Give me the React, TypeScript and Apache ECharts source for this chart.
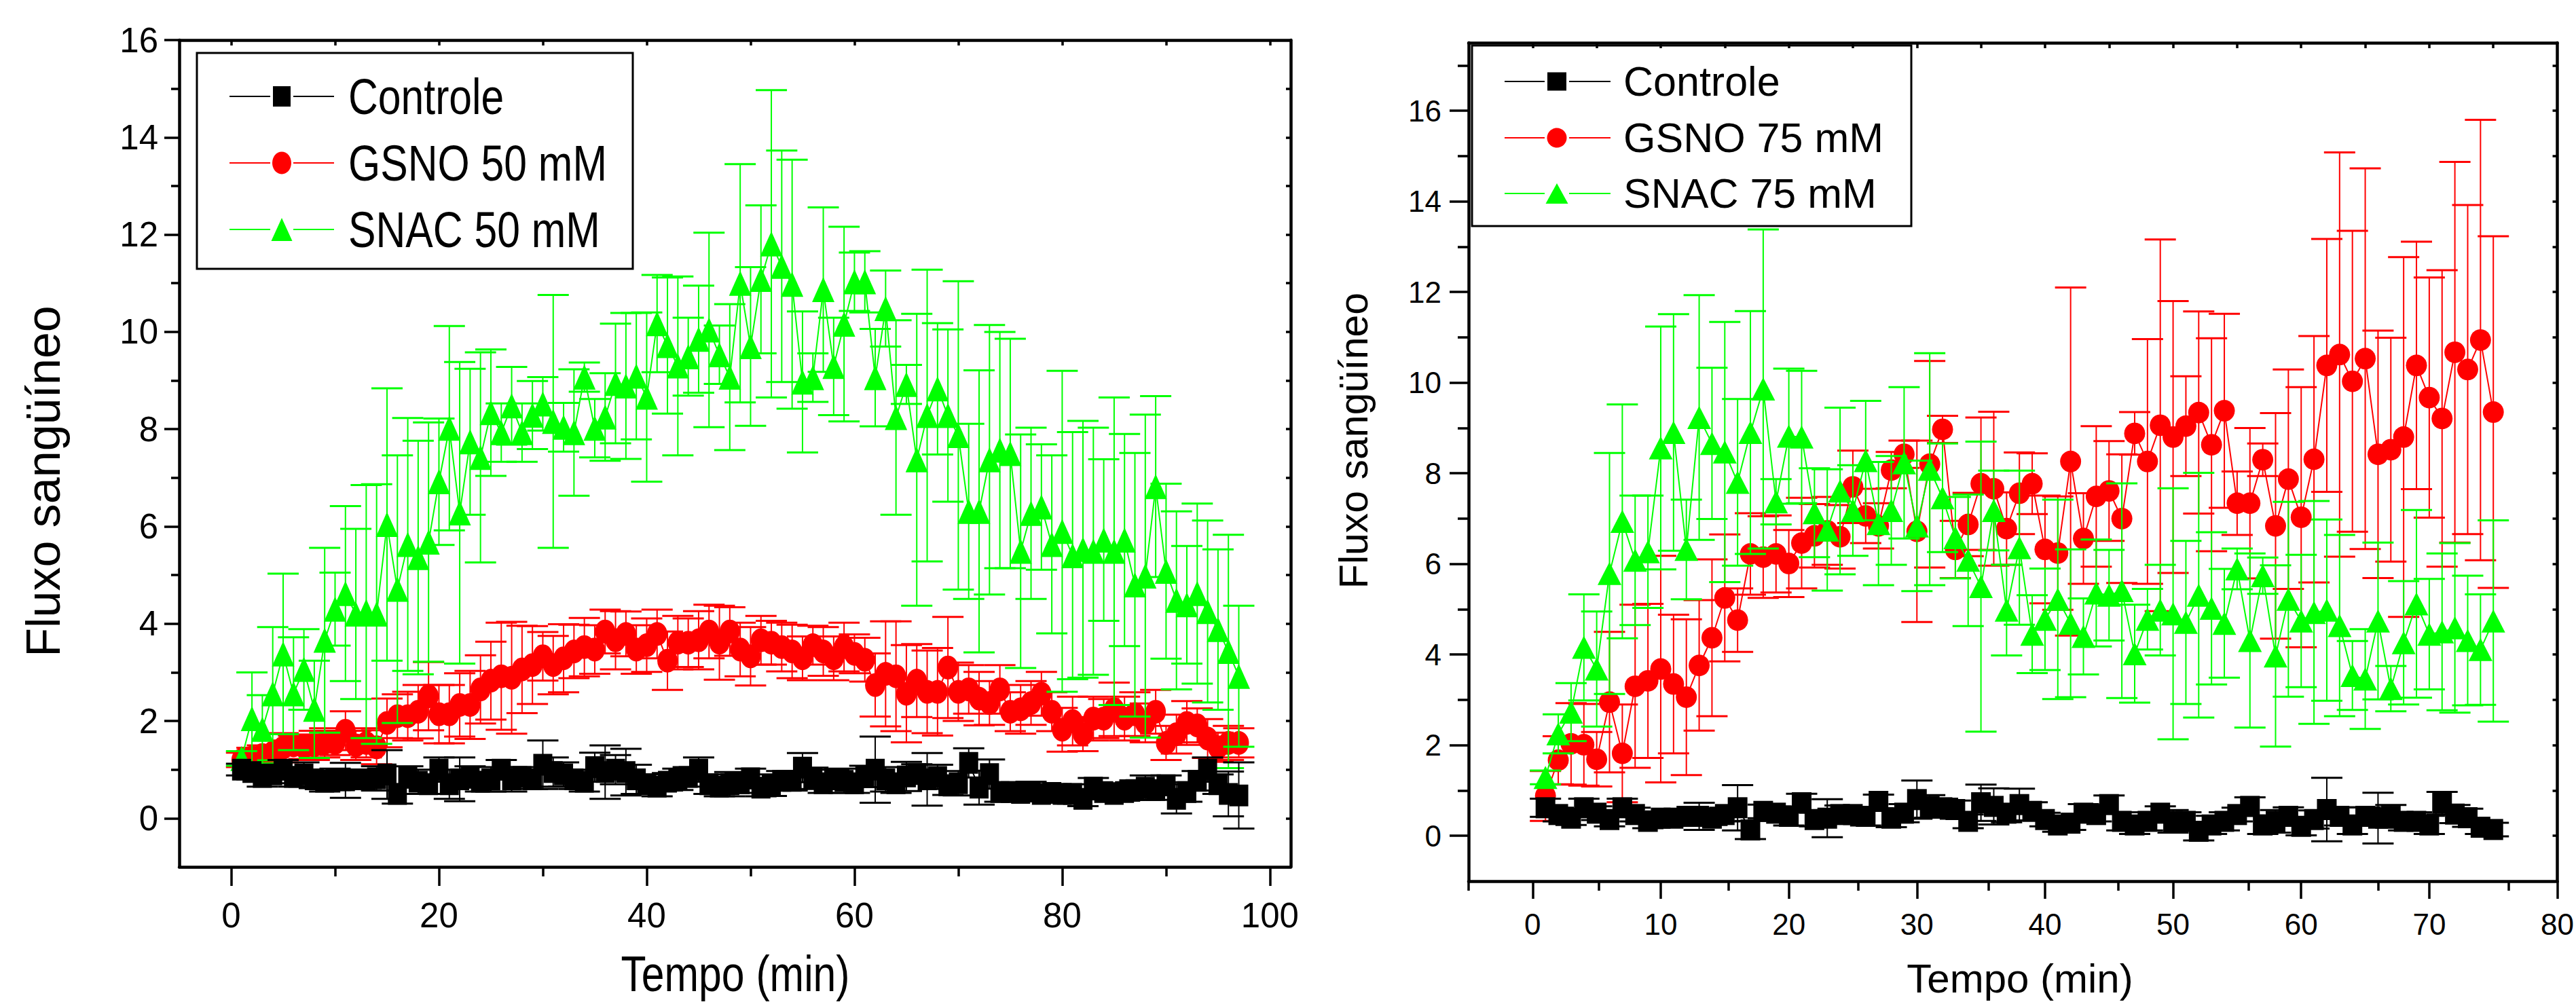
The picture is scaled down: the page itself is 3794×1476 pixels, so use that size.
import React, { useEffect, useRef } from 'react';
import * as echarts from 'echarts';

// ---------- Data: left panel (50 mM), time 1..97 min ----------
const ctrl50 = [
  1.0, 0.95, 0.85, 0.9, 1.0, 0.85, 0.9, 0.8, 0.75, 0.8,
  0.78, 0.8, 0.8, 0.82, 0.9, 0.5, 0.85, 0.75, 0.7, 1.0,
  0.7, 0.8, 0.85, 0.75, 0.8, 1.0, 0.8, 0.85, 0.8, 1.1,
  0.95, 0.9, 0.8, 0.75, 1.05, 0.95, 1.0, 0.95, 0.8, 0.7,
  0.65, 0.75, 0.8, 0.85, 1.0, 0.7, 0.65, 0.7, 0.72, 0.82,
  0.63, 0.68, 0.77, 0.77, 1.04, 0.82, 0.72, 0.8, 0.77, 0.72,
  0.86, 1.0, 0.8, 0.72, 0.86, 0.91, 0.8, 0.85, 0.68, 0.72,
  1.14, 0.63, 0.91, 0.54, 0.54, 0.52, 0.55, 0.5, 0.52, 0.5,
  0.5, 0.4, 0.63, 0.54, 0.5, 0.54, 0.58, 0.63, 0.58, 0.68,
  0.4, 0.54, 0.77, 1.0, 0.7, 0.5, 0.47,
];
const ctrl50Err = [
  0.12, 0.15, 0.2, 0.18, 0.2, 0.2, 0.25, 0.18, 0.2, 0.22,
  0.36, 0.2, 0.18, 0.25, 0.5, 0.2, 0.22, 0.25, 0.2, 0.25,
  0.3, 0.45, 0.22, 0.2, 0.25, 0.2, 0.25, 0.2, 0.2, 0.5,
  0.3, 0.25, 0.2, 0.2, 0.3, 0.55, 0.3, 0.48, 0.3, 0.2,
  0.2, 0.18, 0.22, 0.2, 0.25, 0.2, 0.2, 0.25, 0.2, 0.2,
  0.18, 0.22, 0.2, 0.2, 0.3, 0.22, 0.2, 0.2, 0.25, 0.2,
  0.22, 0.68, 0.25, 0.2, 0.3, 0.2, 0.54, 0.25, 0.2, 0.25,
  0.3, 0.35, 0.3, 0.2, 0.15, 0.15, 0.2, 0.15, 0.18, 0.15,
  0.2, 0.15, 0.2, 0.15, 0.15, 0.18, 0.2, 0.25, 0.2, 0.2,
  0.3, 0.2, 0.2, 0.25, 0.2, 0.46, 0.68,
];
const gsno50 = [
  1.2, 1.25, 1.3, 1.35, 1.45, 1.5, 1.47, 1.5, 1.55, 1.55,
  1.8, 1.5, 1.55, 1.46, 1.96, 2.1, 2.1, 2.19, 2.51, 2.14,
  2.14, 2.33, 2.33, 2.65, 2.83, 2.92, 2.89, 3.06, 3.15, 3.33,
  3.15, 3.29, 3.43, 3.52, 3.47, 3.84, 3.66, 3.79, 3.47, 3.56,
  3.79, 3.24, 3.61, 3.61, 3.66, 3.84, 3.61, 3.84, 3.47, 3.33,
  3.66, 3.61, 3.52, 3.43, 3.29, 3.56, 3.43, 3.29, 3.52, 3.38,
  3.26, 2.74, 2.97, 2.92, 2.56, 2.83, 2.6, 2.6, 3.1, 2.6,
  2.65, 2.46, 2.37, 2.65, 2.19, 2.24, 2.37, 2.56, 2.19, 1.82,
  2.0, 1.73, 2.05, 2.05, 2.24, 2.05, 2.14, 1.96, 2.19, 1.55,
  1.73, 1.96, 1.91, 1.64, 1.46, 1.55, 1.55,
];
const gsno50Err = [
  0.15, 0.2, 0.2, 0.25, 0.3, 0.2, 0.25, 0.3, 0.3, 0.25,
  0.4, 0.3, 0.3, 0.35, 0.5, 0.45, 0.5, 0.55, 0.7, 0.6,
  0.6, 0.65, 0.7, 0.7, 0.8, 1.1, 1.15, 0.9, 0.8, 0.5,
  0.6, 0.7, 0.55, 0.6, 0.5, 0.45, 0.6, 0.46, 0.5, 0.55,
  0.5, 0.6, 0.55, 0.5, 0.6, 0.55, 0.76, 0.5, 0.55, 0.6,
  0.5, 0.45, 0.5, 0.55, 0.45, 0.4, 0.5, 0.45, 0.5, 0.4,
  0.45, 0.65, 1.08, 1.13, 1.0, 0.75, 0.85, 0.9, 1.04, 0.6,
  0.5, 0.55, 0.45, 0.5, 0.4, 0.5, 0.45, 0.45, 0.4, 0.45,
  0.5, 0.35, 0.45, 0.4, 0.55, 0.45, 0.45, 0.4, 0.45, 0.35,
  0.4, 0.45, 0.35, 0.4, 0.3, 0.35, 0.3,
];
const snac50 = [
  1.23, 2.05, 1.83, 2.56, 3.38, 2.56, 3.06, 2.24, 3.66, 4.3,
  4.62, 4.2, 4.25, 4.2, 6.04, 4.71, 5.63, 5.36, 5.68, 6.92,
  8.02, 6.28, 7.74, 7.42, 8.34, 7.93, 8.48, 7.93, 8.29, 8.52,
  8.16, 8.04, 7.93, 9.07, 8.02, 8.25, 8.94, 8.89, 9.09, 8.66,
  10.17, 9.72, 9.3, 9.49, 9.85, 10.04, 9.53, 9.07, 11.0, 9.7,
  11.08, 11.81, 11.35, 10.98, 8.97, 9.06, 10.87, 9.29, 10.16, 11.03,
  11.03, 9.06, 10.48, 8.24, 8.92, 7.37, 8.28, 8.83, 8.28, 7.87,
  6.31, 6.31, 7.37, 7.57, 7.5, 5.49, 6.27, 6.4, 5.63, 5.9,
  5.4, 5.53, 5.49, 5.72, 5.49, 5.72, 4.8, 4.98, 6.82, 5.08,
  4.48, 4.39, 4.62, 4.25, 3.88, 3.43, 2.92,
];
const snac50Err = [
  0.15, 0.95, 0.7, 1.37, 1.65, 1.16, 0.83, 1.0, 1.9, 0.75,
  1.8, 1.75, 2.6, 2.67, 2.8, 2.75, 2.6, 2.4, 2.46, 1.3,
  2.1, 3.1, 1.5, 2.16, 1.3, 0.6, 0.8, 0.6, 0.7, 0.55,
  2.6, 0.5, 1.3, 0.3, 0.6, 0.9, 1.23, 1.5, 1.3, 1.74,
  1.0, 1.4, 1.84, 0.8, 1.1, 2.0, 0.6, 1.5, 2.45, 1.63,
  1.52, 3.16, 2.38, 2.56, 1.45, 0.5, 1.69, 1.0, 2.0, 0.6,
  0.63, 1.0, 0.78, 2.0, 0.4, 3.0, 3.0, 1.35, 1.77, 3.17,
  1.8, 2.9, 2.77, 2.43, 2.36, 2.4, 1.76, 1.29, 1.83, 3.3,
  2.54, 2.64, 2.54, 1.66, 3.16, 2.18, 2.71, 3.32, 1.86, 1.8,
  1.83, 1.21, 1.85, 1.87, 1.65, 2.4, 1.45,
];

// ---------- Data: right panel (75 mM), time 1..75 min ----------
const ctrl75 = [
  0.62, 0.47, 0.39, 0.62, 0.5, 0.36, 0.62, 0.47, 0.32, 0.39,
  0.39, 0.43, 0.43, 0.39, 0.47, 0.62, 0.13, 0.54, 0.5, 0.43,
  0.73, 0.36, 0.39, 0.47, 0.47, 0.43, 0.76, 0.39, 0.5, 0.8,
  0.65, 0.62, 0.58, 0.32, 0.73, 0.65, 0.5, 0.69, 0.54, 0.36,
  0.24, 0.28, 0.5, 0.47, 0.69, 0.32, 0.24, 0.32, 0.5, 0.32,
  0.32, 0.1, 0.24, 0.32, 0.47, 0.65, 0.24, 0.32, 0.43, 0.21,
  0.36, 0.58, 0.43, 0.24, 0.43, 0.39, 0.43, 0.32, 0.32, 0.24,
  0.72, 0.48, 0.4, 0.19, 0.14,
];
const ctrl75Err = [
  0.2, 0.15, 0.15, 0.2, 0.15, 0.15, 0.2, 0.15, 0.15, 0.15,
  0.12, 0.15, 0.3, 0.15, 0.15, 0.5, 0.2, 0.15, 0.15, 0.2,
  0.2, 0.15, 0.42, 0.2, 0.15, 0.2, 0.15, 0.2, 0.2, 0.42,
  0.25, 0.2, 0.2, 0.15, 0.4, 0.4, 0.2, 0.35, 0.2, 0.15,
  0.15, 0.15, 0.2, 0.15, 0.2, 0.2, 0.2, 0.2, 0.15, 0.25,
  0.2, 0.2, 0.2, 0.2, 0.15, 0.2, 0.2, 0.25, 0.2, 0.2,
  0.2, 0.7, 0.2, 0.2, 0.2, 0.56, 0.25, 0.2, 0.2, 0.2,
  0.25, 0.2, 0.2, 0.15, 0.15,
];
const gsno75 = [
  0.88, 1.67, 2.03, 2.01, 1.69, 2.95, 1.82, 3.3, 3.42, 3.68,
  3.35, 3.06, 3.76, 4.37, 5.25, 4.76, 6.22, 6.15, 6.22, 6.01,
  6.46, 6.62, 6.73, 6.6, 7.7, 7.06, 6.84, 8.07, 8.42, 6.72,
  8.2, 8.97, 6.32, 6.87, 7.77, 7.66, 6.78, 7.56, 7.77, 6.32,
  6.24, 8.26, 6.56, 7.49, 7.61, 7.0, 8.88, 8.26, 9.06, 8.8,
  9.04, 9.34, 8.63, 9.38, 7.34, 7.34, 8.3, 6.84, 7.87, 7.03,
  8.31, 10.38, 10.62, 10.03, 10.53, 8.42, 8.52, 8.8, 10.38, 9.67,
  9.21, 10.67, 10.29, 10.94, 9.35,
];
const gsno75Err = [
  0.55, 0.53, 0.9, 0.9, 0.6, 1.55, 1.08, 1.8, 1.7, 2.5,
  1.53, 1.72, 1.44, 1.73, 1.4, 0.7, 0.9, 0.9, 0.85, 0.74,
  1.0, 0.7, 0.75, 0.7, 0.8, 0.6, 0.5, 0.4, 0.3, 2.0,
  2.28, 0.3, 0.63, 0.7, 1.46, 1.7, 0.8, 0.9, 0.67, 1.19,
  1.25, 3.84, 1.0, 1.55, 1.1, 1.42, 0.47, 2.7, 4.1, 3.0,
  1.1, 2.23, 2.35, 2.14, 0.7, 1.66, 0.36, 2.49, 2.42, 2.87,
  2.72, 2.79, 4.46, 3.32, 4.2, 2.73, 2.47, 3.97, 2.73, 2.65,
  3.27, 4.2, 3.63, 4.86, 3.88,
];
const snac75 = [
  1.29, 2.25, 2.73, 4.16, 3.68, 5.79, 6.94, 6.08, 6.27, 8.56,
  8.9, 6.32, 9.23, 8.66, 8.47, 7.8, 8.9, 9.86, 7.37, 8.82,
  8.8, 7.13, 6.75, 7.61, 7.18, 8.28, 6.89, 7.18, 8.23, 6.84,
  8.09, 7.46, 6.58, 6.08, 5.5, 7.18, 4.98, 6.36, 4.45, 4.78,
  5.22, 4.69, 4.4, 5.36, 5.31, 5.41, 4.02, 4.78, 4.98, 4.9,
  4.71, 5.31, 5.02, 4.69, 5.89, 4.31, 5.74, 3.97, 5.22, 4.74,
  4.93, 4.98, 4.64, 3.54, 3.46, 4.74, 3.25, 4.26, 5.12, 4.45,
  4.5, 4.59, 4.31, 4.11, 4.74,
];
const snac75Err = [
  0.15, 0.43, 0.64, 1.17, 1.27, 2.66, 2.58, 1.43, 1.24, 2.68,
  2.61, 1.1, 2.7, 1.67, 2.87, 1.84, 2.68, 3.52, 0.5, 1.49,
  1.46, 0.98, 1.34, 1.84, 1.0, 1.32, 1.36, 1.2, 1.67, 1.44,
  2.56, 1.2, 0.9, 1.45, 3.2, 0.88, 1.0, 1.7, 0.86, 1.12,
  2.2, 1.63, 0.84, 1.18, 1.0, 2.37, 1.08, 0.67, 1.0, 2.77,
  1.8, 2.7, 1.68, 1.2, 0.45, 1.92, 0.4, 2.0, 2.15, 1.46,
  2.46, 2.0, 2.0, 0.76, 1.1, 1.73, 0.5, 1.36, 2.07, 1.22,
  1.73, 1.87, 1.43, 1.22, 2.22,
];

const time50 = Array.from({ length: ctrl50.length }, (_, i) => i + 1);
const time75 = Array.from({ length: ctrl75.length }, (_, i) => i + 1);

// ---------- Tick values ----------
const leftXMajor = [0, 20, 40, 60, 80, 100];
const leftXMinor = [10, 30, 50, 70, 90];
const leftXTop = [0, 10, 20, 30, 40, 50, 60, 70, 80, 90, 100];
const leftYMajor = [0, 2, 4, 6, 8, 10, 12, 14, 16];
const leftYMinor = [1, 3, 5, 7, 9, 11, 13, 15];
const leftYRight = [0, 1, 2, 3, 4, 5, 6, 7, 8, 9, 10, 11, 12, 13, 14, 15];
const rightXMajor = [0, 10, 20, 30, 40, 50, 60, 70, 80];
const rightXMinor = [-5, 5, 15, 25, 35, 45, 55, 65, 75];
const rightXTop = [0, 5, 10, 15, 20, 25, 30, 35, 40, 45, 50, 55, 60, 65, 70, 75];
const rightYMajor = [0, 2, 4, 6, 8, 10, 12, 14, 16];
const rightYMinor = [1, 3, 5, 7, 9, 11, 13, 15, 17];
const rightYRight = [0, 1, 2, 3, 4, 5, 6, 7, 8, 9, 10, 11, 12, 13, 14, 15, 16, 17];

const NAMES_L = ['Controle', 'GSNO 50 mM', 'SNAC 50 mM'];
const NAMES_R = ['Controle', 'GSNO 75 mM', 'SNAC 75 mM'];

const BLACK = '#000000';
const RED = '#ff0000';
const GREEN = '#00ff00';
const SANS = "'Liberation Sans', Arial, sans-serif";
const NARROW_SCALE = 0.82;

function lineSeries(name: string, t: number[], v: number[], color: string, symbol: string, size: number[], ax: number, z: number) {
  return {
    type: 'line', name, xAxisIndex: ax, yAxisIndex: ax,
    data: t.map((x, i) => [x, v[i]]),
    symbol, symbolSize: size, showSymbol: true, showAllSymbol: true,
    lineStyle: { color, width: 2 }, itemStyle: { color },
    emphasis: { disabled: true }, silent: true, z,
  };
}

function errSeries(t: number[], v: number[], e: number[], color: string, ax: number, z: number) {
  return {
    type: 'custom', xAxisIndex: ax, yAxisIndex: ax,
    data: t.map((x, i) => [x, v[i] - e[i], v[i] + e[i]]),
    encode: { x: 0, y: [1, 2] },
    silent: true, z,
    renderItem: (_p: any, api: any) => {
      const x = api.value(0);
      const lo = api.coord([x, api.value(1)]);
      const hi = api.coord([x, api.value(2)]);
      const hw = 23;
      return {
        type: 'group',
        children: [
          { type: 'line', shape: { x1: hi[0], y1: hi[1], x2: lo[0], y2: lo[1] }, style: { stroke: color, lineWidth: 2 } },
          { type: 'line', shape: { x1: hi[0] - hw, y1: hi[1], x2: hi[0] + hw, y2: hi[1] }, style: { stroke: color, lineWidth: 3 } },
          { type: 'line', shape: { x1: lo[0] - hw, y1: lo[1], x2: lo[0] + hw, y2: lo[1] }, style: { stroke: color, lineWidth: 3 } },
        ],
      };
    },
  };
}

const lineStyleAxis = { color: BLACK, width: 4.5 };
const tickStyle = { color: BLACK, width: 3.5 };

function mainX(grid: number, min: number, max: number, ticks: number[], len: number, size: number, margin: number) {
  return {
    type: 'value', gridIndex: grid, position: 'bottom', min, max,
    splitLine: { show: false },
    axisLine: { show: true, onZero: false, lineStyle: lineStyleAxis },
    axisTick: { show: true, inside: false, customValues: ticks, length: len, lineStyle: tickStyle },
    axisLabel: { show: true, customValues: ticks, margin, fontSize: size, fontFamily: SANS, color: BLACK },
  };
}
function plainX(grid: number, pos: string, min: number, max: number, ticks: number[], len: number, inside: boolean, showLine: boolean) {
  return {
    type: 'value', gridIndex: grid, position: pos, min, max,
    splitLine: { show: false },
    axisLine: { show: showLine, onZero: false, lineStyle: lineStyleAxis },
    axisTick: { show: true, inside, customValues: ticks, length: len, lineStyle: tickStyle },
    axisLabel: { show: false },
  };
}
function mainY(grid: number, min: number, max: number, ticks: number[], len: number, size: number, margin: number) {
  return {
    type: 'value', gridIndex: grid, position: 'left', min, max,
    splitLine: { show: false },
    axisLine: { show: true, onZero: false, lineStyle: lineStyleAxis },
    axisTick: { show: true, inside: false, customValues: ticks, length: len, lineStyle: tickStyle },
    axisLabel: { show: true, customValues: ticks, margin, fontSize: size, fontFamily: SANS, color: BLACK },
  };
}
function plainY(grid: number, pos: string, min: number, max: number, ticks: number[], len: number, inside: boolean, showLine: boolean) {
  return {
    type: 'value', gridIndex: grid, position: pos, min, max,
    splitLine: { show: false },
    axisLine: { show: showLine, onZero: false, lineStyle: lineStyleAxis },
    axisTick: { show: true, inside, customValues: ticks, length: len, lineStyle: tickStyle },
    axisLabel: { show: false },
  };
}

// Legend drawn as graphic elements (box, line samples, markers, labels)
function legendGraphic(opts: {
  box: number[]; rowsY: number[]; lineX: number[]; symX: number; gap: number; textX: number;
  fontSize: number; scaleX: number; names: string[]; sym: number[][];
}) {
  const colors = [BLACK, RED, GREEN];
  const children: any[] = [
    { type: 'rect', shape: { x: opts.box[0], y: opts.box[1], width: opts.box[2], height: opts.box[3] },
      style: { fill: '#ffffff', stroke: BLACK, lineWidth: 3 } },
  ];
  opts.rowsY.forEach((cy, i) => {
    const c = colors[i];
    children.push({ type: 'line', shape: { x1: opts.lineX[0], y1: cy, x2: opts.symX - opts.gap, y2: cy }, style: { stroke: c, lineWidth: 2 } });
    children.push({ type: 'line', shape: { x1: opts.symX + opts.gap, y1: cy, x2: opts.lineX[1], y2: cy }, style: { stroke: c, lineWidth: 2 } });
    const [w, h] = opts.sym[i];
    if (i === 0) {
      children.push({ type: 'rect', shape: { x: opts.symX - w / 2, y: cy - h / 2, width: w, height: h }, style: { fill: c } });
    } else if (i === 1) {
      children.push({ type: 'ellipse', shape: { cx: opts.symX, cy, rx: w / 2, ry: h / 2 }, style: { fill: c } });
    } else {
      children.push({ type: 'polygon', shape: { points: [[opts.symX, cy - h / 2], [opts.symX + w / 2, cy + h / 2], [opts.symX - w / 2, cy + h / 2]] }, style: { fill: c } });
    }
    children.push({
      type: 'text', x: opts.textX, y: cy, scaleX: opts.scaleX,
      style: { text: opts.names[i], fontSize: opts.fontSize, fontFamily: SANS, fill: BLACK, align: 'left', verticalAlign: 'middle' },
    });
  });
  return { type: 'group', silent: true, z: 20, children };
}

function buildOption() {
  const gL = { left: 264, top: 59, width: 1637, height: 1218 };
  const gR = { left: 2163, top: 63, width: 1627, height: 1235 };
  return {
    animation: false,
    backgroundColor: '#ffffff',
    grid: [
      { ...gL, containLabel: false },
      { ...gL, containLabel: false },
      { ...gR, containLabel: false },
      { ...gR, containLabel: false },
    ],
    xAxis: [
      mainX(0, -5, 102, leftXMajor, 28, 51, 46),
      plainX(0, 'top', -5, 102, leftXTop, 8, true, true),
      plainX(1, 'bottom', -5, 102, leftXMinor, 14, false, false),
      mainX(2, -5, 80, rightXMajor, 26, 44, 41),
      plainX(2, 'top', -5, 80, rightXTop, 8, true, true),
      plainX(3, 'bottom', -5, 80, rightXMinor, 14, false, false),
    ],
    yAxis: [
      mainY(0, -1, 16, leftYMajor, 22, 51, 31),
      plainY(0, 'right', -1, 16, leftYRight, 7, true, true),
      plainY(1, 'left', -1, 16, leftYMinor, 12, false, false),
      mainY(2, -1, 17.5, rightYMajor, 28, 44, 40),
      plainY(2, 'right', -1, 17.5, rightYRight, 7, true, true),
      plainY(3, 'left', -1, 17.5, rightYMinor, 16, false, false),
    ],
    graphic: [
      legendGraphic({
        box: [290, 78, 642, 318], rowsY: [142, 240, 338], lineX: [338, 492], symX: 415, gap: 17,
        textX: 513, fontSize: 74, scaleX: NARROW_SCALE, names: NAMES_L,
        sym: [[26, 30], [28, 33], [31, 34]],
      }),
      legendGraphic({
        box: [2168, 67, 647, 266], rowsY: [120, 203, 285], lineX: [2216, 2372], symX: 2293, gap: 18,
        textX: 2391, fontSize: 61, scaleX: 1, names: NAMES_R,
        sym: [[28, 27], [29, 29], [33, 30]],
      }),
      { type: 'text', x: 64, y: 709, rotation: Math.PI / 2, silent: true,
        style: { text: 'Fluxo sangüíneo', fontSize: 70, fontFamily: SANS, fill: BLACK, align: 'center', verticalAlign: 'middle' } },
      { type: 'text', x: 1994, y: 649, rotation: Math.PI / 2, silent: true,
        style: { text: 'Fluxo sangüíneo', fontSize: 59, fontFamily: SANS, fill: BLACK, align: 'center', verticalAlign: 'middle' } },
      { type: 'text', x: 1083, y: 1434, scaleX: NARROW_SCALE, silent: true,
        style: { text: 'Tempo (min)', fontSize: 74, fontFamily: SANS, fill: BLACK, align: 'center', verticalAlign: 'middle' } },
      { type: 'text', x: 2975, y: 1441, silent: true,
        style: { text: 'Tempo (min)', fontSize: 60, fontFamily: SANS, fill: BLACK, align: 'center', verticalAlign: 'middle' } },
    ],
    series: [
      errSeries(time50, gsno50, gsno50Err, RED, 0, 2),
      lineSeries(NAMES_L[1], time50, gsno50, RED, 'circle', [30, 35], 0, 3),
      errSeries(time50, snac50, snac50Err, GREEN, 0, 4),
      lineSeries(NAMES_L[2], time50, snac50, GREEN, 'triangle', [33, 37], 0, 5),
      errSeries(time50, ctrl50, ctrl50Err, BLACK, 0, 6),
      lineSeries(NAMES_L[0], time50, ctrl50, BLACK, 'rect', [28, 32], 0, 7),

      errSeries(time75, gsno75, gsno75Err, RED, 3, 2),
      lineSeries(NAMES_R[1], time75, gsno75, RED, 'circle', [31, 32], 3, 3),
      errSeries(time75, snac75, snac75Err, GREEN, 3, 4),
      lineSeries(NAMES_R[2], time75, snac75, GREEN, 'triangle', [35, 34], 3, 5),
      errSeries(time75, ctrl75, ctrl75Err, BLACK, 3, 6),
      lineSeries(NAMES_R[0], time75, ctrl75, BLACK, 'rect', [29, 31], 3, 7),
    ],
  };
}

export default function App() {
  const ref = useRef<HTMLDivElement | null>(null);
  useEffect(() => {
    if (!ref.current) return;
    const chart = echarts.init(ref.current, null, { renderer: 'svg' });
    chart.setOption(buildOption() as any);
    return () => chart.dispose();
  }, []);
  return (
    <div
      ref={ref}
      style={{ position: 'absolute', left: 0, top: 0, width: 3794, height: 1476, background: '#fff' }}
    />
  );
}
